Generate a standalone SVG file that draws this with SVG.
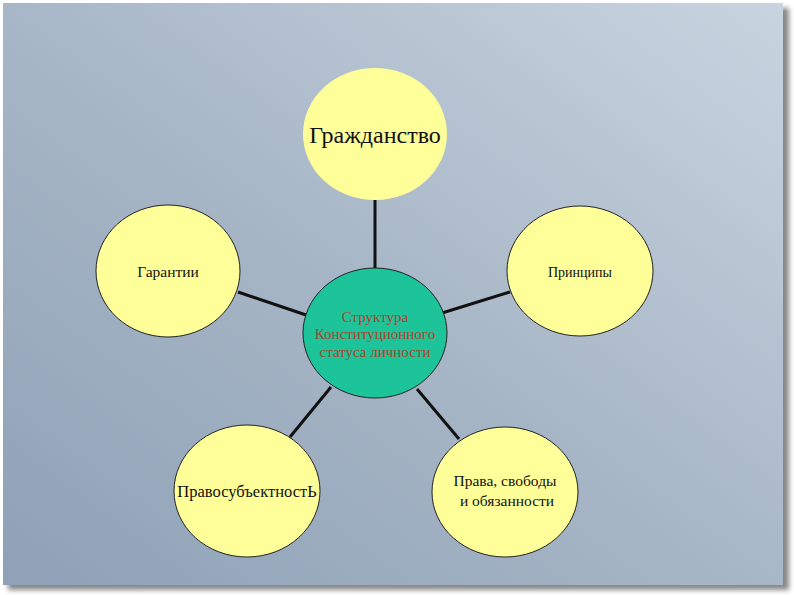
<svg xmlns="http://www.w3.org/2000/svg" width="794" height="595" viewBox="0 0 794 595">
<defs>
<linearGradient id="bg" x1="0" y1="1" x2="1" y2="0">
<stop offset="0" stop-color="#8ea1b6"/>
<stop offset="0.5" stop-color="#a8b7c7"/>
<stop offset="1" stop-color="#c8d4e0"/>
</linearGradient>
<filter id="sh" x="-5%" y="-5%" width="115%" height="115%">
<feGaussianBlur stdDeviation="2.5"/>
</filter>
</defs>
<style>
.node{fill:#ffff99;stroke:#222;stroke-width:1}
.lbl{font-family:"Liberation Serif","DejaVu Serif","Times New Roman",serif;fill:#111;text-anchor:middle}
.red{fill:#b0432a}
.edge{stroke:#111;stroke-width:3;fill:none}
</style>
<rect width="794" height="595" fill="#ffffff"/>
<rect x="8" y="8" width="781" height="582" fill="#555" opacity="0.7" filter="url(#sh)"/>
<rect x="3" y="3" width="780" height="582" fill="url(#bg)"/>
<g id="connectors">
<line class="edge" x1="375" y1="200" x2="375" y2="268"/>
<line class="edge" x1="238" y1="292" x2="309" y2="316"/>
<line class="edge" x1="510" y1="292" x2="442" y2="313"/>
<line class="edge" x1="290" y1="437" x2="331" y2="387"/>
<line class="edge" x1="459" y1="439" x2="417" y2="389"/>
</g>
<g id="n-grazhdanstvo">
<ellipse cx="375" cy="134" rx="72" ry="66" fill="#ffff99"/>
<text class="lbl" x="375" y="143" font-size="24" font-family="Liberation Serif, DejaVu Serif, serif">Гражданство</text>
</g>
<g id="n-garantii">
<ellipse class="node" cx="168" cy="271" rx="72" ry="66"/>
<text class="lbl" x="168" y="277" font-size="15.5" font-family="Liberation Serif, DejaVu Serif, serif">Гарантии</text>
</g>
<g id="n-principy">
<ellipse class="node" cx="580" cy="271" rx="73" ry="65"/>
<text class="lbl" x="580" y="277" font-size="14" font-family="Liberation Serif, DejaVu Serif, serif">Принципы</text>
</g>
<g id="n-center">
<ellipse cx="375" cy="333" rx="72" ry="65" fill="#1dc49a" stroke="#222" stroke-width="1"/>
<text class="lbl red" x="375" y="322" font-size="15" font-family="Liberation Serif, DejaVu Serif, serif">Структура</text>
<text class="lbl red" x="375" y="339" font-size="15" font-family="Liberation Serif, DejaVu Serif, serif">Конституционного</text>
<text class="lbl red" x="375" y="357" font-size="15" font-family="Liberation Serif, DejaVu Serif, serif">статуса личности</text>
</g>
<g id="n-pravosub">
<ellipse class="node" cx="247" cy="491" rx="73" ry="66"/>
<text class="lbl" x="247" y="497" font-size="16.5" font-family="Liberation Serif, DejaVu Serif, serif">ПравосубъектностЬ</text>
</g>
<g id="n-prava">
<ellipse class="node" cx="505" cy="492" rx="73" ry="65"/>
<text class="lbl" x="505" y="486" font-size="15.5" font-family="Liberation Serif, DejaVu Serif, serif">Права, свободы</text>
<text class="lbl" x="507" y="506" font-size="15.5" font-family="Liberation Serif, DejaVu Serif, serif">и обязанности</text>
</g>
</svg>
